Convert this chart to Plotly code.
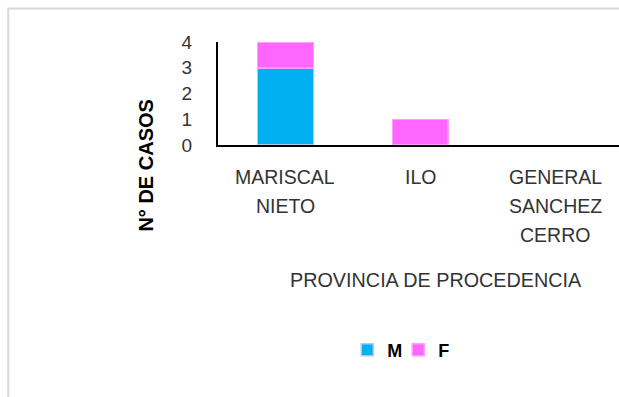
import plotly.graph_objects as go

categories = ["MARISCAL NIETO", "ILO", "GENERAL SANCHEZ CERRO"]
m_values = [3, 0, 0]
f_values = [1, 1, 0]
y_ticks = [0, 1, 2, 3, 4]

W, H = 619, 397
L, R, T, B = 217.5, 619, 42, 145


def px_x(px):
    return (px - L) / (R - L)


def px_y(py):
    return (B - py) / (B - T)


FONT = "Liberation Sans"
TEXT = "#333333"

fig = go.Figure()
fig.add_trace(go.Bar(x=categories, y=m_values, name="M",
                     marker=dict(color="#00B0F0",
                                 line=dict(color="#A9CDEE", width=[1.5 if v else 0 for v in m_values]))))
fig.add_trace(go.Bar(x=categories, y=f_values, name="F",
                     marker=dict(color="#FF66FF",
                                 line=dict(color="#FF9CFF", width=[1.5 if v else 0 for v in f_values]))))

fig.update_layout(
    width=W, height=H,
    barmode="stack",
    bargap=0.585,
    margin=dict(l=L, r=W - R, t=T, b=H - B, pad=0),
    paper_bgcolor="white", plot_bgcolor="white",
    font=dict(family=FONT, size=18, color=TEXT),
    showlegend=True,
    legend=dict(orientation="h", x=px_x(398), y=-1.99, xanchor="center", yanchor="middle",
                traceorder="normal", bgcolor="rgba(0,0,0,0)",
                font=dict(family=FONT, size=18, color="black", weight="bold"),
                entrywidth=6, entrywidthmode="pixels", tracegroupgap=0),
    xaxis=dict(range=[-0.5, 2.5 - 3.5 / 135], showline=True, linecolor="black", linewidth=2,
               ticks="", showgrid=False, zeroline=False, showticklabels=False),
    yaxis=dict(range=[0, 4], tickvals=y_ticks, showline=True, linecolor="black", linewidth=2,
               ticks="", showgrid=False, zeroline=False, ticklabelstandoff=20,
               tickfont=dict(family=FONT, size=19, color=TEXT)),
)

# category labels, one line per word, on the x axis scale
for cat in categories:
    for i, word in enumerate(cat.split(" ")):
        fig.add_annotation(text=word, xref="x", yref="paper", x=cat, y=px_y(177 + 29 * i),
                           showarrow=False, xanchor="center", yanchor="middle",
                           font=dict(family=FONT, size=19.5, color=TEXT))

fig.add_annotation(text="N° DE CASOS", xref="paper", yref="paper", x=px_x(145), y=px_y(166),
                   textangle=-90, showarrow=False, xanchor="center", yanchor="middle",
                   font=dict(family=FONT, size=20, color="black", weight="bold"))
fig.add_annotation(text="PROVINCIA DE PROCEDENCIA", xref="paper", yref="paper", x=px_x(436), y=px_y(280),
                   showarrow=False, xanchor="center", yanchor="middle",
                   font=dict(family=FONT, size=19.8, color=TEXT))

fig.add_shape(type="rect", xref="paper", yref="paper",
              x0=px_x(7.5), y0=px_y(500), x1=px_x(700), y1=px_y(8.5),
              line=dict(color="#D9D9D9", width=2), fillcolor="rgba(0,0,0,0)", layer="below")

fig.write_html("out.html", config={"displayModeBar": False})
